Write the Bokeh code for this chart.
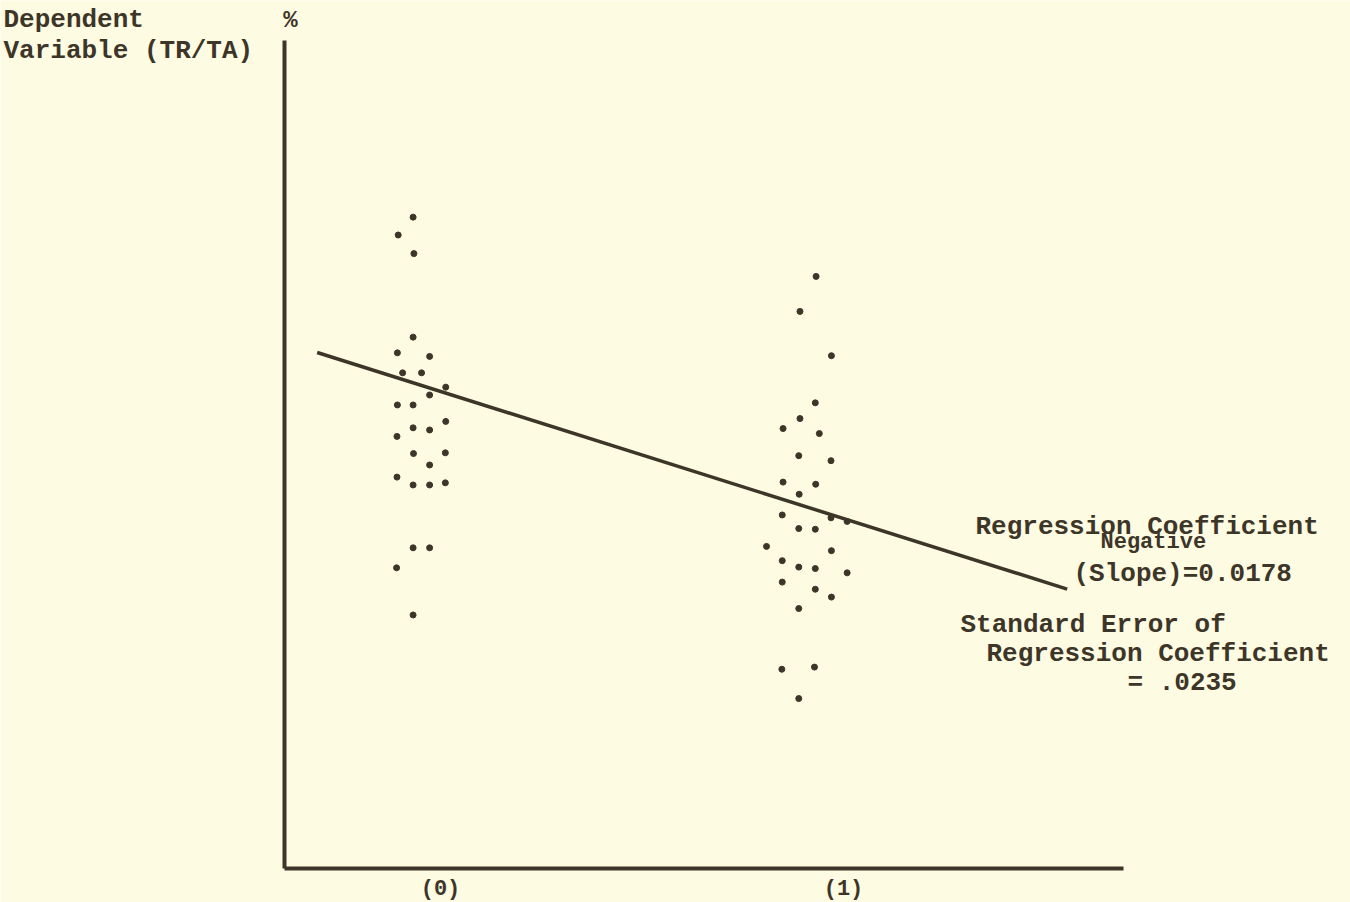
from bokeh.plotting import figure
from bokeh.models import Label, FixedTicker, Range1d, LinearAxis
from bokeh.embed import file_html
from bokeh.resources import INLINE

# ---------------- data ----------------
categories = ["(0)", "(1)"]
category_pos = [0, 1]

# group (0): jittered x positions and dependent variable TR/TA
group0_x = [-0.068, -0.105, -0.066, -0.068, -0.107, -0.027, -0.094, -0.047, -0.027, 0.013,
            -0.107, -0.068, 0.013, -0.068, -0.027, -0.108, -0.067, 0.012, -0.027, -0.108,
            -0.068, -0.027, 0.012, -0.068, -0.027, -0.109, -0.068]
group0_y = [0.0912, 0.0887, 0.0861, 0.0744, 0.0722, 0.0717, 0.0694, 0.0694, 0.0663, 0.0674,
            0.0649, 0.0649, 0.0626, 0.0617, 0.0614, 0.0605, 0.0581, 0.0582, 0.0565, 0.0548,
            0.0537, 0.0537, 0.0540, 0.0449, 0.0449, 0.0421, 0.0355]

# group (1)
group1_x = [0.932, 0.892, 0.970, 0.930, 0.892, 0.850, 0.940, 0.889, 0.969, 0.850,
            0.931, 0.890, 0.848, 0.969, 1.009, 0.889, 0.930, 0.809, 0.970, 0.848,
            0.889, 0.930, 1.009, 0.848, 0.930, 0.970, 0.889, 0.847, 0.928, 0.889]
group1_y = [0.0829, 0.0780, 0.0718, 0.0652, 0.0630, 0.0616, 0.0609, 0.0578, 0.0571, 0.0541,
            0.0538, 0.0524, 0.0495, 0.0491, 0.0486, 0.0476, 0.0475, 0.0451, 0.0445, 0.0431,
            0.0422, 0.0420, 0.0414, 0.0401, 0.0391, 0.0380, 0.0364, 0.0279, 0.0282, 0.0238]

# regression
reg_intercept = 0.0668
reg_slope = -0.0178
reg_x = [-0.306, 1.555]

# ---------------- styling ----------------
BG = "#FDFBE2"
INK = "#3e3529"
FONT = "Liberation Mono"
W, H = 1350, 902

# pixel->data helpers for layout placement (page pixels)
def dx(px):
    return (px - 440.0) / 403.0

def dy(py):
    return (868.0 - py) / 7142.0

p = figure(width=W, height=H, output_backend="svg", toolbar_location=None,
           x_range=Range1d(dx(0), dx(W)), y_range=Range1d(dy(H), dy(0)),
           x_axis_location=None, y_axis_location=None,
           min_border=0, min_border_left=0, min_border_right=0,
           min_border_top=0, min_border_bottom=0)

p.background_fill_color = BG
p.border_fill_color = BG
p.outline_line_color = None
p.grid.visible = False

# axes drawn at fixed locations inside the full-canvas frame
xaxis = LinearAxis(fixed_location=0.0, bounds=(dx(284), dx(1123)),
                   ticker=FixedTicker(ticks=category_pos),
                   major_label_overrides={k: v for k, v in zip(category_pos, categories)})
yaxis = LinearAxis(fixed_location=dx(284), bounds=(0.0, dy(40)),
                   ticker=FixedTicker(ticks=[]))
for ax in (xaxis, yaxis):
    ax.axis_line_color = INK
    ax.axis_line_width = 4
    ax.major_tick_line_color = None
    ax.minor_tick_line_color = None
xaxis.major_label_text_font = FONT
xaxis.major_label_text_font_size = "22px"
xaxis.major_label_text_font_style = "bold"
xaxis.major_label_text_color = INK
xaxis.major_label_standoff = 2
yaxis.major_label_text_font_size = "0px"
p.add_layout(xaxis, "below")
p.add_layout(yaxis, "left")

# dots
p.scatter(group0_x, group0_y, size=6, color=INK)
p.scatter(group1_x, group1_y, size=6, color=INK)

# regression line
reg_y = [reg_intercept + reg_slope * x for x in reg_x]
p.line(reg_x, reg_y, line_width=3.5, line_color=INK)

# annotations
def add_text(txt, px, py, size="26px", align="left", bold=True):
    p.add_layout(Label(x=dx(px), y=dy(py), text=txt, text_font=FONT,
                       text_font_size=size, text_color=INK, text_align=align,
                       text_baseline="middle",
                       text_font_style="bold" if bold else "normal"))

add_text("Dependent", 3, 19)
add_text("Variable (TR/TA)", 3, 50)
add_text("%", 290, 20, size="24px", align="center")
add_text("Regression Coefficient", 975, 526)
add_text("Negative", 1100, 542, size="22px")
add_text("(Slope)=0.0178", 1073, 573)
add_text("Standard Error of", 960, 624)
add_text("Regression Coefficient", 986, 653)
add_text("= .0235", 1127, 682)

open("out.html", "w").write(file_html(p, INLINE))
